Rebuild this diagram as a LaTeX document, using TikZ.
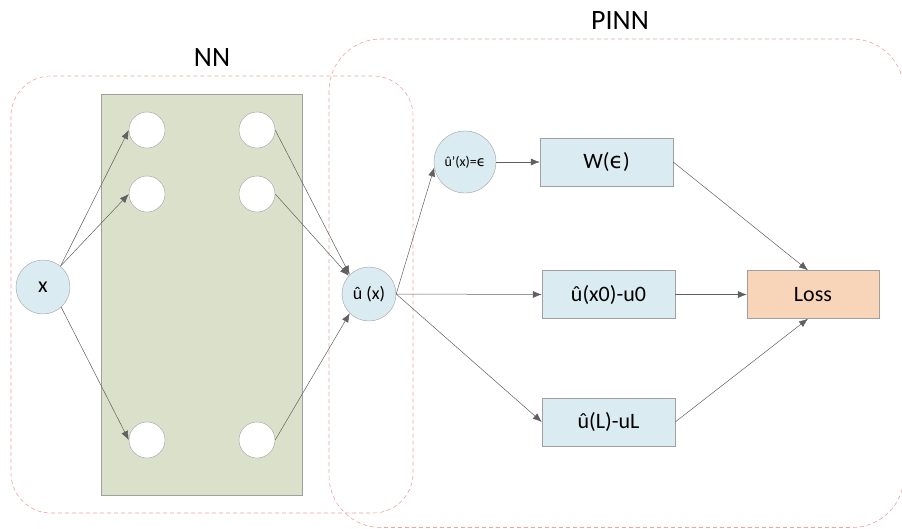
\documentclass[tikz,border=0pt]{standalone}
\usepackage{fontspec}
\setmainfont{Carlito}
\newfontfamily\dvsym{DejaVu Sans}
\usetikzlibrary{arrows.meta}
\definecolor{grp}{HTML}{DBE0CA}
\definecolor{lb}{HTML}{DAEBF2}
\definecolor{peach}{HTML}{F8D5B9}
\definecolor{bd}{HTML}{A0A0A0}
\definecolor{dsh}{HTML}{F2A0A0}
\definecolor{ln}{HTML}{606060}
\newcommand{\eps}{{\dvsym ϵ}}
\tikzset{
  grpbox/.style={draw=dsh, dash pattern=on 4pt off 3pt, line width=0.6pt, rounded corners=#1},
  hid/.style={circle, draw=bd, fill=white, minimum size=36pt, inner sep=0pt},
  bignode/.style={circle, draw=bd, fill=lb, minimum size=54pt, inner sep=0pt},
  termbox/.style={rectangle, draw=bd, fill=lb, minimum width=133pt, minimum height=48pt, inner sep=0pt, font=\fontsize{22}{26}\selectfont},
  conn/.style={draw=ln, line width=0.5pt, -{Latex[length=9pt,width=7pt]}},
  title/.style={font=\fontsize{28}{32}\selectfont}
}
\begin{document}
\begin{tikzpicture}[x=1pt,y=-1pt]
\useasboundingbox (0,0) rectangle (902,528);
% group boxes
\draw[grpbox=40pt] (11,76) rectangle (413,513);
\draw[grpbox=52pt] (329,39) rectangle (904,527.5);
\node[title] (nnlbl) at (212,58) {NN};
\node[title] (pinnlbl) at (620,21) {PINN};
% hidden layer panel
\node[rectangle, draw=bd, fill=grp, minimum width=201pt, minimum height=401pt, inner sep=0pt] (panel) at (201.5,294.5) {};
% hidden neurons
\node[hid] (h1) at (147,130) {};
\node[hid] (h2) at (147,194) {};
\node[hid] (h3) at (147,440) {};
\node[hid] (g1) at (257,130) {};
\node[hid] (g2) at (257,194) {};
\node[hid] (g3) at (257,440) {};
% input / output
\node[bignode, font=\fontsize{22}{26}\selectfont] (x) at (43,287) {x};
\node[bignode, font=\fontsize{18}{22}\selectfont] (u) at (369,294) {û (x)};
\node[circle, draw=bd, fill=lb, minimum size=62pt, inner sep=0pt, font=\fontsize{14}{17}\selectfont] (ud) at (465,162) {û’(x)=\eps};
% terms
\node[termbox] (w) at (606.5,162) {W(\eps)};
\node[termbox] (b0) at (608.5,294.5) {û(x0)-u0};
\node[termbox] (bl) at (608.5,422) {û(L)-uL};
\node[termbox, fill=peach, minimum width=132pt] (loss) at (813,294.5) {Loss};
% connectors
\draw[conn] (x.50) -- (h1.west);
\draw[conn] (x.50) -- (h2.west);
\draw[conn] (x.-48) -- (h3.west);
\draw[conn] (g1.east) -- (u.135);
\draw[conn] (g2.east) -- (u.138);
\draw[conn] (g3.east) -- (u.-135);
\draw[conn] (u.east) -- (ud.190);
\draw[conn] (u.east) -- (b0.west);
\draw[conn] (u.east) -- (bl.west);
\draw[conn] (ud.east) -- (w.west);
\draw[conn] (w.east) -- ([xshift=-5pt]loss.north);
\draw[conn] (b0.east) -- (loss.west);
\draw[conn] (bl.east) -- ([xshift=-5pt]loss.south);
\end{tikzpicture}
\end{document}
